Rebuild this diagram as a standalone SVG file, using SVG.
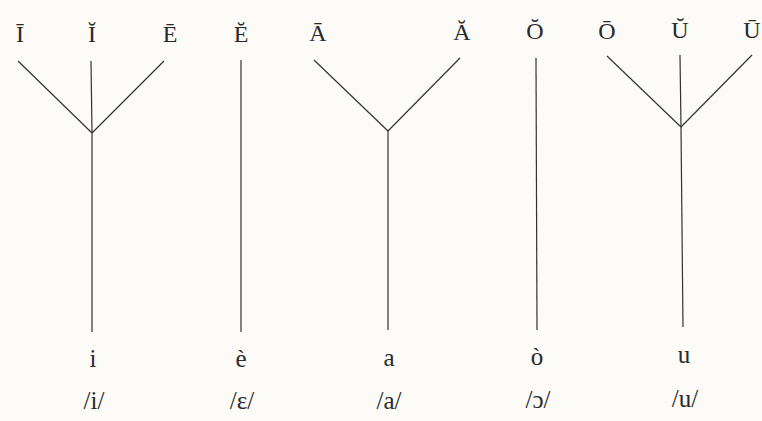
<svg xmlns="http://www.w3.org/2000/svg" width="762" height="421" viewBox="0 0 762 421">
<style>
.t{font-family:"Liberation Serif","Times New Roman",serif;fill:#2a2a2a;text-anchor:middle}
.top{font-size:24px}
.low{font-size:25px}
.c line{stroke:#333;stroke-width:1.2;fill:none}
</style>
<rect width="762" height="421" fill="#fcfbf8"/>
<g class="c" id="connectors">
<line x1="18" y1="61" x2="92" y2="133"/>
<line x1="91" y1="61" x2="92" y2="133"/>
<line x1="164" y1="61" x2="92" y2="133"/>
<line x1="92" y1="133" x2="92" y2="332"/>
<line x1="241" y1="60" x2="241" y2="332"/>
<line x1="314" y1="60" x2="388" y2="131"/>
<line x1="460" y1="58" x2="388" y2="131"/>
<line x1="388" y1="131" x2="388" y2="330"/>
<line x1="536" y1="58" x2="537" y2="330"/>
<line x1="607" y1="56" x2="681" y2="127"/>
<line x1="680" y1="55" x2="681" y2="127"/>
<line x1="752" y1="55" x2="681" y2="127"/>
<line x1="681" y1="127" x2="683" y2="327"/>
</g>
<g id="top-labels">
<text class="t top" x="20" y="42">Ī</text>
<text class="t top" x="92" y="42">Ĭ</text>
<text class="t top" x="170" y="42">Ē</text>
<text class="t top" x="241" y="42">Ĕ</text>
<text class="t top" x="318" y="41">Ā</text>
<text class="t top" x="462" y="40">Ă</text>
<text class="t top" x="535" y="39">Ŏ</text>
<text class="t top" x="607" y="39">Ō</text>
<text class="t top" x="680" y="38">Ŭ</text>
<text class="t top" x="752" y="38">Ū</text>
</g>
<g id="letters">
<text class="t low" x="93" y="367">i</text>
<text class="t low" x="241" y="367">è</text>
<text class="t low" x="389" y="366">a</text>
<text class="t low" x="537" y="365">ò</text>
<text class="t low" x="684" y="363">u</text>
</g>
<g id="ipa">
<text class="t low" x="94" y="409">/i/</text>
<text class="t low" x="242" y="409">/ɛ/</text>
<text class="t low" x="389" y="409">/a/</text>
<text class="t low" x="538" y="408">/ɔ/</text>
<text class="t low" x="685" y="407">/u/</text>
</g>
</svg>
